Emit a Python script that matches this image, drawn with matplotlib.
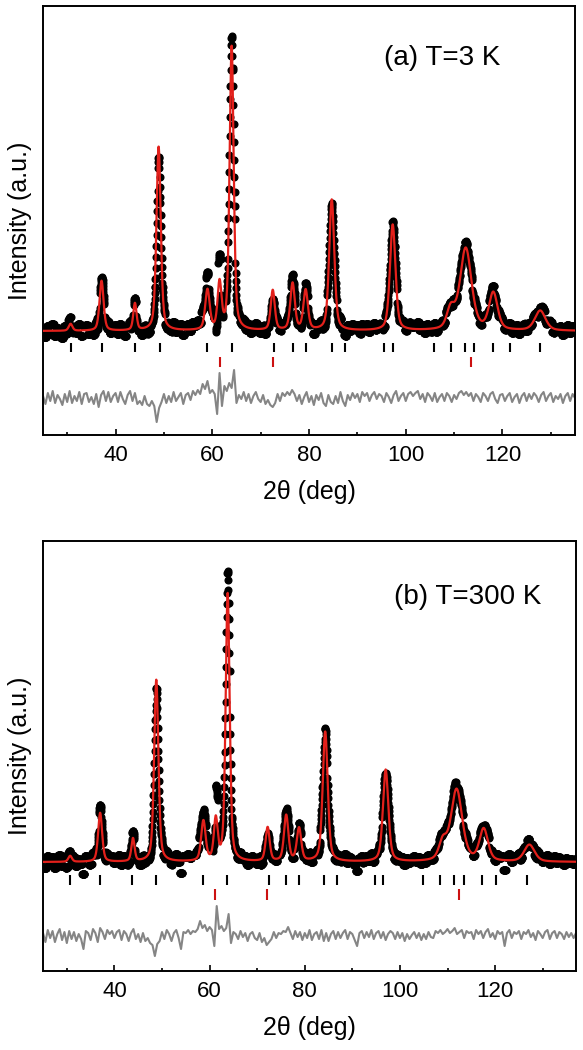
import numpy as np
import matplotlib
matplotlib.use("Agg")
import matplotlib.pyplot as plt

plt.rcParams['font.family'] = ['Liberation Sans', 'DejaVu Sans']

# ---- (a) T = 3 K : peak table (pos deg, height a.u., fwhm deg)
peak_pos_a = [30.7, 37.1, 44.0, 48.9, 59.0, 61.5, 64.0, 72.5, 76.6, 79.3, 84.7, 97.3, 109.3, 112.4, 118.1, 127.8]
peak_hgt_a = [7, 50, 27, 184, 40, 46, 284, 40, 47, 40, 131, 106, 20, 82, 37, 20]
peak_fwhm_a = [0.9, 1.0, 0.8, 1.05, 1.1, 0.95, 1.0, 1.0, 1.1, 1.1, 1.25, 1.35, 1.9, 2.8, 2.1, 2.6]
background_a = 104
bragg_main_a = [30.8, 37.2, 44.1, 49.1, 59.0, 64.1, 72.7, 76.6, 79.4, 84.8, 87.5, 95.5, 97.3,
                105.8, 109.4, 112.3, 114.1, 118.1, 121.5, 127.8]
bragg_second_a = [61.5, 72.5, 113.5]
# obs - calc, every 0.5 deg from 25 to 135
diff_a = [2, -6, 5, -3, 7, -5, 3, -1, -7, 4,
          -4, 7, -5, 2, -3, 6, -6, 4, 5, -4,
          1, -6, 4, -9, 3, 7, -3, 6, -4, 2,
          5, -4, 6, -1, -6, 3, 7, -3, 5, -6,
          -3, -7, 2, -6, -8, -3, -8, -24, -10, -4,
          4, -5, 2, -4, 6, -3, 1, 5, -6, 3,
          5, -2, 7, 3, 8, 4, 14, 9, 17, 5,
          8, 4, -16, 25, -8, 12, 7, 15, 10, 28,
          -5, 3, -1, 6, -3, 4, -5, 2, 6, -1,
          -4, 3, -6, -2, -7, -9, -5, 4, -3, 5,
          2, 6, 3, 8, 4, -3, 3, -6, 1, 6,
          -4, 2, -7, 3, -2, 5, -5, -8, 3, -4,
          -6, 2, -5, 6, -3, -8, 3, -2, 5, 0,
          4, -4, 6, 2, 5, -3, 3, 6, -1, 4,
          2, -4, 5, 1, -5, 3, 7, -3, 2, 5,
          -3, 4, 6, 2, 5, 7, -1, 4, -4, 5,
          2, -3, 5, -4, 1, 4, -3, 5, 2, -4,
          3, -1, 5, 7, 3, 6, 2, 5, -3, 4,
          1, -4, 5, 2, -3, 4, 6, -1, -5, 3,
          4, -3, 2, 5, -4, 1, 4, -5, 2, 5,
          -3, 4, -1, 5, 2, -4, 3, 6, -3, 2,
          5, -4, 2, -1, 4, -5, 2, 5, -3, 4,
          0]

# ---- (b) T = 300 K
peak_pos_b = [30.7, 37.0, 43.9, 48.8, 58.7, 61.3, 63.8, 72.2, 76.1, 78.8, 84.3, 97.0, 109.0, 111.9, 117.6, 127.2]
peak_hgt_b = [6, 49, 23, 182, 40, 41, 268, 34, 46, 33, 130, 92, 18, 72, 32, 17]
peak_fwhm_b = [0.9, 1.0, 0.8, 1.05, 1.1, 0.95, 1.0, 1.0, 1.1, 1.1, 1.25, 1.35, 1.9, 2.8, 2.1, 2.6]
background_b = 109
bragg_main_b = [30.7, 37.0, 43.8, 48.8, 58.7, 63.7, 72.4, 76.0, 78.7, 84.1, 86.7, 94.7, 96.5,
                104.8, 108.4, 111.4, 113.4, 117.3, 120.1, 126.8]
bragg_second_b = [61.2, 72.0, 112.5]
# obs - calc, every 0.5 deg from 25 to 137
diff_b = [3, -6, 6, -2, 5, -6, 2, 7, -4, 4,
          -7, 5, -3, 4, -5, 2, -3, -13, 5, 3,
          -4, 7, 3, -6, 8, 4, -3, 6, 2, 5,
          -2, 4, 6, -4, 5, 2, -5, 3, 7, -3,
          2, -6, 3, -5, -2, -7, -9, -20, -8, -5,
          4, -3, 6, 2, -5, 3, 6, -2, -13, 4,
          3, 6, 2, 5, 4, 7, 15, 8, 11, 5,
          9, 6, -10, 30, 7, 10, 5, 8, 22, -7,
          4, 2, -3, 5, -1, 3, -5, 2, 4, -2,
          -4, 3, -6, -2, -9, -6, -3, 4, -2, 3,
          2, 5, 4, 9, 3, -3, 5, -1, 4, -4,
          3, -2, 6, -4, 2, 4, -3, 6, -5, 3,
          -5, 2, 5, -3, 4, -2, 3, 6, -3, 4,
          2, -4, -10, 3, 5, -2, 4, -1, 6, -3,
          3, 5, -2, 4, -4, 2, 5, 3, -3, 4,
          -2, 3, -5, 2, -3, 1, 4, -2, 3, -4,
          2, -3, 4, -1, -2, 5, 3, 6, 2, 4,
          7, 3, 5, 8, 2, 4, 6, -2, 5, 3,
          4, -3, 6, 2, 5, -2, 4, 7, -1, 3,
          -3, 5, 2, 4, -10, 3, 6, -2, 4, 2,
          5, -3, 4, 2, 6, -1, 3, -4, 5, 2,
          -2, 4, 6, -3, 3, 5, -2, 4, 2, -3,
          4, -1, 3, -2, 3]

RED = '#e3201b'


def calc_profile(x, pos, hgt, fwhm, bg, eta=0.45):
    # pseudo-Voigt sum built from the peak table
    y = np.full_like(x, float(bg))
    for p, h, w in zip(pos, hgt, fwhm):
        d = (x - p) / w
        lor = 1.0 / (1.0 + 4.0 * d ** 2)
        gau = np.exp(-4.0 * np.log(2) * d ** 2)
        y += h * (eta * lor + (1 - eta) * gau)
    return y


def draw_panel(ax, xmax, pos, hgt, fwhm, bg, diff, bragg1, bragg2, ymax,
               tick1, tick2, diff_off, label, label_xy):
    x_fine = np.arange(25.0, xmax + 1e-6, 0.05)
    x_diff = 25.0 + 0.5 * np.arange(len(diff))
    diff = np.asarray(diff, float)
    calc = calc_profile(x_fine, pos, hgt, fwhm, bg)
    idx = np.clip(np.rint((x_fine - 25.0) / 0.5).astype(int), 0, len(diff) - 1)
    obs = calc + diff[idx]

    ax.plot(x_fine, obs, 'o', ms=4.8, color='k', mec='k', zorder=2)
    ax.plot(x_fine, calc, '-', color=RED, lw=1.6, zorder=3)
    ax.plot(x_diff, diff + diff_off, '-', color='#858585', lw=1.5, zorder=2)
    ax.vlines(bragg1, tick1[0], tick1[1], color='k', lw=1.5)
    ax.vlines(bragg2, tick2[0], tick2[1], color='#cc1111', lw=1.5)

    ax.set_xlim(25, xmax)
    ax.set_ylim(0, ymax)
    ax.set_xticks([40, 60, 80, 100, 120])
    ax.set_xticks([30, 50, 70, 90, 110, 130], minor=True)
    ax.set_yticks([])
    ax.tick_params(axis='x', which='major', direction='in', length=4, width=1.2,
                   labelsize=16, pad=7)
    ax.tick_params(axis='x', which='minor', direction='in', length=2.5, width=1.2)
    for s in ax.spines.values():
        s.set_linewidth(1.4)
    ax.set_xlabel('2θ (deg)', fontsize=18, labelpad=10)
    ax.set_ylabel('Intensity (a.u.)', fontsize=18, labelpad=8)
    ax.text(label_xy[0], label_xy[1], label, transform=ax.transAxes,
            fontsize=20, ha='center', va='center')


fig = plt.figure(figsize=(5.83, 10.5), dpi=100)
ax_a = fig.add_axes([0.0738, 0.5857, 0.9125, 0.4086])
ax_b = fig.add_axes([0.0738, 0.0752, 0.9142, 0.4095])

draw_panel(ax_a, 135, peak_pos_a, peak_hgt_a, peak_fwhm_a, background_a, diff_a,
           bragg_main_a, bragg_second_a, 429, (83, 92), (68, 78), 37,
           '(a) T=3 K', (0.75, 0.879))
draw_panel(ax_b, 137, peak_pos_b, peak_hgt_b, peak_fwhm_b, background_b, diff_b,
           bragg_main_b, bragg_second_b, 430, (86, 96), (71, 82), 35,
           '(b) T=300 K', (0.797, 0.870))

fig.savefig('out.png', dpi=100)
